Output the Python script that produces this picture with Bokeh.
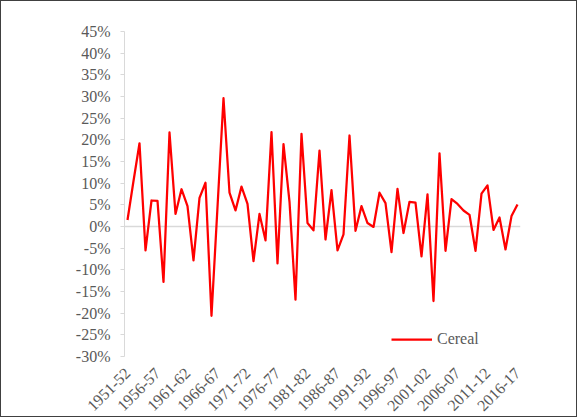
import math

from bokeh.embed import file_html
from bokeh.models import ColumnDataSource, FixedTicker, PrintfTickFormatter, Span
from bokeh.plotting import figure
from bokeh.resources import INLINE

# Crop years (agricultural seasons), one point per season
seasons = [f"{y}-{str(y + 1)[-2:]}" for y in range(1951, 2017)]

# Year-on-year growth of cereal production, in percent
cereal_growth = [
    1.5, 10.5, 19.2, -5.5, 6.0, 5.9, -12.8, 21.7, 2.9, 8.6,
    4.7, -7.8, 6.6, 10.1, -20.6, 4.5, 29.6, 7.8, 3.7, 9.2,
    5.2, -8.0, 2.9, -3.2, 21.8, -8.5, 19.0, 5.7, -16.9, 21.4,
    0.8, -0.9, 17.5, -3.0, 8.4, -5.5, -1.8, 21.0, -1.0, 4.7,
    0.8, -0.1, 7.8, 5.4, -5.9, 8.7, -1.5, 5.7, 5.5, -6.9,
    7.4, -17.2, 16.9, -5.6, 6.3, 5.2, 3.7, 2.7, -5.6, 7.6,
    9.5, -0.8, 2.1, -5.3, 2.4, 5.1,
]

# Axis ticks
y_ticks = [-30, -25, -20, -15, -10, -5, 0, 5, 10, 15, 20, 25, 30, 35, 40, 45]
x_tick_labels = [
    "1951-52", "1956-57", "1961-62", "1966-67", "1971-72", "1976-77", "1981-82",
    "1986-87", "1991-92", "1996-97", "2001-02", "2006-07", "2011-12", "2016-17",
]

FONT = "Liberation Serif"
TEXT_COLOR = "#595959"
AXIS_GRAY = "#d9d9d9"

source = ColumnDataSource(dict(
    x=list(range(len(seasons))),
    season=seasons,
    growth=cereal_growth,
))

p = figure(
    width=577, height=417,
    output_backend="svg", toolbar_location=None,
    x_range=(-0.5, len(seasons) - 0.5),
    y_range=(y_ticks[0], y_ticks[-1]),
    min_border_left=123, min_border_right=58,
    min_border_top=30, min_border_bottom=61,
    background_fill_color="white", border_fill_color="white",
)
p.styles = {"border": "1px solid #404040"}
p.outline_line_color = None
p.grid.visible = False

# Zero line
p.add_layout(Span(location=0, dimension="width", line_color=AXIS_GRAY,
                  line_width=1.3, level="underlay"))

p.line("x", "growth", source=source, line_color="#ff0000", line_width=2.25,
       line_join="round", legend_label="Cereal")

# Y axis: percent labels
yax = p.yaxis[0]
yax.ticker = FixedTicker(ticks=y_ticks)
yax.formatter = PrintfTickFormatter(format="%d%%")
yax.axis_line_color = AXIS_GRAY
yax.major_tick_line_color = AXIS_GRAY
yax.major_tick_out = 4
yax.major_tick_in = 0
yax.minor_tick_line_color = None
yax.major_label_standoff = 10
yax.major_label_text_font = FONT
yax.major_label_text_font_size = "16px"
yax.major_label_text_color = TEXT_COLOR

# X axis: every fifth season, rotated
xax = p.xaxis[0]
tick_positions = [seasons.index(s) for s in x_tick_labels]
xax.ticker = FixedTicker(ticks=tick_positions)
xax.major_label_overrides = {i: s for i, s in zip(tick_positions, x_tick_labels)}
xax.major_label_orientation = math.pi / 4
xax.axis_line_color = None
xax.major_tick_line_color = None
xax.minor_tick_line_color = None
xax.major_label_standoff = 8
xax.major_label_text_font = FONT
xax.major_label_text_font_size = "16px"
xax.major_label_text_color = TEXT_COLOR

# Legend
leg = p.legend[0]
leg.location = (267, 7)
leg.border_line_color = None
leg.background_fill_alpha = 0
leg.padding = 0
leg.margin = 0
leg.spacing = 0
leg.glyph_width = 41
leg.glyph_height = 20
leg.label_height = 20
leg.label_standoff = 5
leg.label_text_font = FONT
leg.label_text_font_size = "16px"
leg.label_text_color = TEXT_COLOR

open("out.html", "w").write(file_html(p, INLINE))
